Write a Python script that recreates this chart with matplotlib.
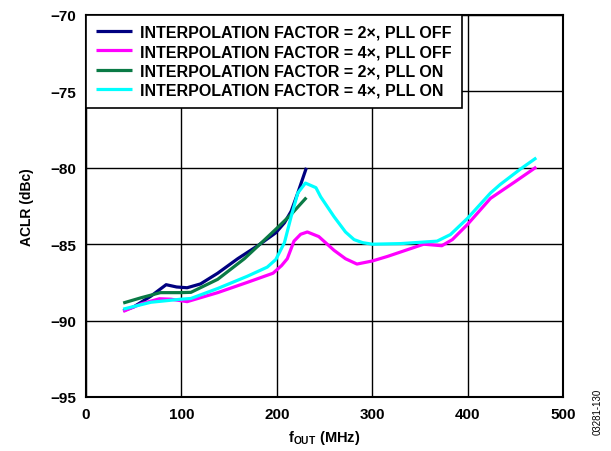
import numpy as np
import matplotlib
matplotlib.use('Agg')
import matplotlib.pyplot as plt

plt.rcParams['font.family'] = ['Liberation Sans', 'DejaVu Sans']
plt.rcParams['mathtext.fontset'] = 'custom'
plt.rcParams['mathtext.rm'] = 'Liberation Sans'
plt.rcParams['mathtext.bf'] = 'Liberation Sans:bold'

# 2x, PLL off
x_2x_off = [39, 50, 68, 84, 95, 106, 120, 138, 159, 180, 199, 208, 215, 222, 231]
y_2x_off = [-89.35, -89.1, -88.4, -87.65, -87.8, -87.85, -87.6, -86.9, -85.95, -85.1,
            -84.25, -83.6, -82.85, -81.65, -80.0]
# 4x, PLL off
x_4x_off = [39, 58, 77, 89, 106, 138, 169, 196, 205, 211, 218, 225, 232, 244, 260, 272,
            284, 300, 316, 335, 354, 373, 384, 400, 424, 450, 472]
y_4x_off = [-89.4, -88.9, -88.57, -88.6, -88.76, -88.17, -87.5, -86.9, -86.4, -85.95,
            -84.8, -84.35, -84.2, -84.5, -85.4, -85.95, -86.3, -86.1, -85.8, -85.4,
            -85.0, -85.1, -84.7, -83.7, -82.0, -80.9, -79.95]
# 2x, PLL on
x_2x_on = [39, 58, 78, 99, 110, 138, 166, 184, 201, 215, 231]
y_2x_on = [-88.85, -88.5, -88.17, -88.17, -88.15, -87.3, -85.95, -84.9, -83.9, -83.05, -81.95]
# 4x, PLL on
x_4x_on = [39, 68, 99.5, 110, 138, 169, 190, 199, 208, 215, 222, 230, 241, 246, 260, 272,
           281, 290, 300, 330, 368, 382, 400, 424, 434, 455, 472]
y_4x_on = [-89.25, -88.8, -88.6, -88.55, -87.9, -87.1, -86.5, -86.0, -84.9, -83.2, -81.65,
           -81.0, -81.3, -81.9, -83.2, -84.2, -84.7, -84.9, -85.0, -84.96, -84.8, -84.37,
           -83.3, -81.65, -81.1, -80.1, -79.35]

labels = ['INTERPOLATION FACTOR = 2\u00d7, PLL OFF',
          'INTERPOLATION FACTOR = 4\u00d7, PLL OFF',
          'INTERPOLATION FACTOR = 2\u00d7, PLL ON',
          'INTERPOLATION FACTOR = 4\u00d7, PLL ON']
colors = ['#000080', '#FF00FF', '#0A7A45', '#00FFFF']

fig = plt.figure(figsize=(6.11, 4.52), dpi=100)
ax = fig.add_axes([86/611, 1 - 398/452, (563-86)/611, (398-16)/452])

series = [(x_2x_off, y_2x_off), (x_4x_off, y_4x_off), (x_2x_on, y_2x_on), (x_4x_on, y_4x_on)]
for (xs, ys), c, lab in zip(series, colors, labels):
    ax.plot(xs, ys, color=c, lw=2.3, label=lab, solid_capstyle='butt', solid_joinstyle='round')

ax.set_xlim(0, 500)
ax.set_ylim(-95, -70)
ax.set_xticks(np.arange(0, 501, 100))
ax.set_yticks(np.arange(-95, -69, 5))
ax.set_yticklabels(['\u2212%d' % abs(v) for v in range(-95, -69, 5)])
ax.grid(True, color='black', lw=1.0)
ax.tick_params(length=0, pad=7, labelsize=11)
for t in ax.get_xticklabels() + ax.get_yticklabels():
    t.set_fontweight('bold')
for s in ax.spines.values():
    s.set_linewidth(1.5)

ax.set_ylabel('ACLR (dBc)', fontsize=10, fontweight='bold', labelpad=12)
ax.set_xlabel(r'$\mathbf{f}_{\mathbf{OUT}}$ (MHz)', fontsize=10.5, fontweight='bold', labelpad=5)

leg = ax.legend(loc='upper left', bbox_to_anchor=(0, 1), borderaxespad=0,
                fancybox=False, framealpha=1, edgecolor='black',
                prop={'weight': 'bold', 'size': 11.5}, handlelength=2.3,
                handletextpad=0.5, labelspacing=0.28, borderpad=0.6)
leg.get_frame().set_linewidth(1.2)

fig.text(598/611, 1 - 412/452, '03281-130', rotation=90, fontsize=7,
         ha='center', va='center')

fig.savefig('out.png', dpi=100)
